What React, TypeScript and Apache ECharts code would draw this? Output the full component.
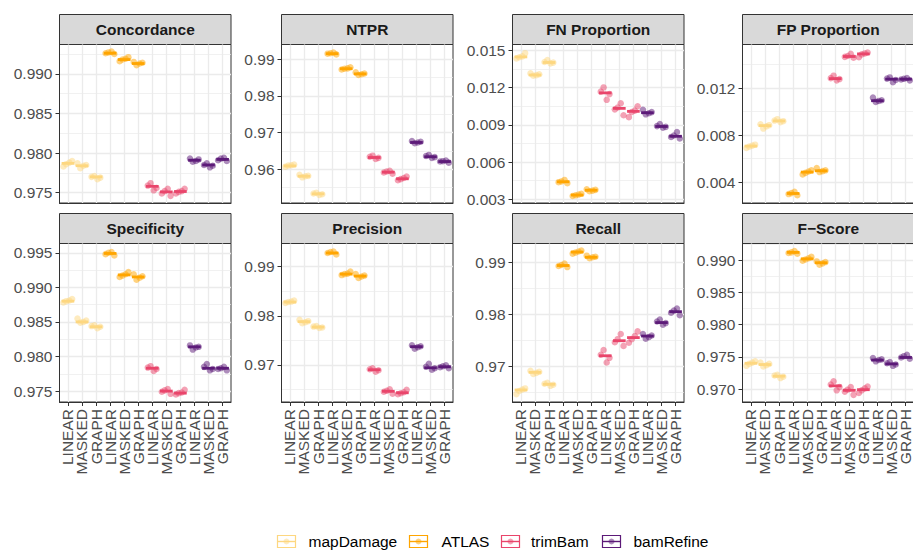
import { useEffect, useRef } from "react";
import * as echarts from "echarts";

// ---- categories ----
const TOOLS = ["mapDamage", "ATLAS", "trimBam", "bamRefine"];
const MODES = ["LINEAR", "MASKED", "GRAPH"];
const CATEGORIES = TOOLS.flatMap(() => MODES);
const TOOL_COLORS = ["#FDD780", "#FFA500", "#E9456B", "#5C1A78"];

// ---- Concordance ----
const concordanceMedian = [0.9787, 0.9784, 0.977, 0.9926, 0.9918, 0.9913, 0.9758, 0.9751, 0.97515, 0.9791, 0.9785, 0.9792];
const concordancePoints = [
  [0.9783, 0.9786, 0.9788, 0.979], [0.9781, 0.9784, 0.9785, 0.9787], [0.9767, 0.9769, 0.977, 0.9771],
  [0.9925, 0.9926, 0.9927, 0.9928], [0.9916, 0.9918, 0.9919, 0.9921], [0.9911, 0.9913, 0.9914, 0.9915],
  [0.9753, 0.9756, 0.9759, 0.9762], [0.9746, 0.9749, 0.9752, 0.9755], [0.9749, 0.9751, 0.9752, 0.9755],
  [0.9789, 0.979, 0.9792, 0.9793], [0.9782, 0.9784, 0.9785, 0.9787], [0.979, 0.9791, 0.9793, 0.9794],
];
const concordanceTicks = [0.975, 0.98, 0.985, 0.99];
const concordanceLimits = [0.9737, 0.9937];

// ---- NTPR ----
const ntprMedian = [0.9609, 0.9581, 0.9533, 0.9915, 0.9874, 0.986, 0.9632, 0.9592, 0.9574, 0.9673, 0.9634, 0.9621];
const ntprPoints = [
  [0.9607, 0.961, 0.9611, 0.9613], [0.9578, 0.9581, 0.9582, 0.9585], [0.953, 0.9532, 0.9534, 0.9536],
  [0.9913, 0.9915, 0.9916, 0.9918], [0.9872, 0.9874, 0.9875, 0.9878], [0.9857, 0.9859, 0.9861, 0.9864],
  [0.9628, 0.9631, 0.9634, 0.9637], [0.9588, 0.9591, 0.9594, 0.9596], [0.957, 0.9573, 0.9576, 0.958],
  [0.9671, 0.9673, 0.9675, 0.9677], [0.9631, 0.9633, 0.9636, 0.9639], [0.9618, 0.9621, 0.9622, 0.9624],
];
const ntprTicks = [0.96, 0.97, 0.98, 0.99];
const ntprLimits = [0.9508, 0.994];

// ---- FN Proportion ----
const fnMedian = [0.01448, 0.01302, 0.01403, 0.00441, 0.00334, 0.00373, 0.01158, 0.01033, 0.01009, 0.00998, 0.00887, 0.00808];
const fnPoints = [
  [0.01435, 0.01445, 0.01452, 0.01478], [0.01296, 0.01301, 0.01308, 0.01316], [0.01396, 0.01402, 0.01407, 0.01422],
  [0.0043, 0.00438, 0.00444, 0.00456], [0.00326, 0.00332, 0.00338, 0.00345], [0.00365, 0.0037, 0.00376, 0.00381],
  [0.01102, 0.01148, 0.01168, 0.01202], [0.00978, 0.01025, 0.0104, 0.01074], [0.00962, 0.01004, 0.01015, 0.0105],
  [0.00985, 0.00994, 0.01003, 0.01022], [0.00878, 0.00884, 0.0089, 0.00906], [0.0079, 0.00802, 0.00814, 0.00842],
];
const fnTicks = [0.003, 0.006, 0.009, 0.012, 0.015];
const fnLimits = [0.0027, 0.01548];

// ---- FP Proportion ----
const fpMedian = [0.00706, 0.0088, 0.0092, 0.00303, 0.00485, 0.00496, 0.0128, 0.01468, 0.0149, 0.01092, 0.01275, 0.01275];
const fpPoints = [
  [0.0069, 0.00702, 0.0071, 0.00718], [0.00855, 0.00874, 0.00884, 0.00892], [0.0091, 0.00918, 0.00923, 0.00935],
  [0.00288, 0.00298, 0.00306, 0.00318], [0.00465, 0.00478, 0.0049, 0.005], [0.00485, 0.00493, 0.005, 0.0052],
  [0.01265, 0.01276, 0.01284, 0.01305], [0.01458, 0.01465, 0.01472, 0.0149], [0.01462, 0.01486, 0.01494, 0.01502],
  [0.01082, 0.0109, 0.01096, 0.01118], [0.0125, 0.01268, 0.0128, 0.0129], [0.01265, 0.01272, 0.01278, 0.01285],
];
const fpTicks = [0.004, 0.008, 0.012];
const fpLimits = [0.00222, 0.0157];

// ---- Specificity ----
const specificityMedian = [0.988, 0.985, 0.9843, 0.9949, 0.9918, 0.9915, 0.9783, 0.975, 0.9747, 0.9814, 0.9783, 0.9783];
const specificityPoints = [
  [0.9878, 0.988, 0.9881, 0.9883], [0.9849, 0.985, 0.9852, 0.9855], [0.9841, 0.9843, 0.9844, 0.9845],
  [0.9946, 0.9948, 0.995, 0.9951], [0.9915, 0.9917, 0.9919, 0.9922], [0.9911, 0.9914, 0.9916, 0.9919],
  [0.9779, 0.9782, 0.9784, 0.9786], [0.9746, 0.9749, 0.9751, 0.9753], [0.9745, 0.9747, 0.9748, 0.9752],
  [0.981, 0.9813, 0.9814, 0.9816], [0.978, 0.9782, 0.9785, 0.9789], [0.978, 0.9782, 0.9783, 0.9785],
];
const specificityTicks = [0.975, 0.98, 0.985, 0.99, 0.995];
const specificityLimits = [0.97342, 0.99634];

// ---- Precision ----
const precisionMedian = [0.9828, 0.9788, 0.9777, 0.9928, 0.9885, 0.9881, 0.969, 0.9646, 0.9643, 0.9737, 0.9694, 0.9696];
const precisionPoints = [
  [0.9826, 0.9828, 0.9829, 0.9831], [0.9785, 0.9787, 0.9789, 0.9792], [0.9775, 0.9776, 0.9778, 0.9779],
  [0.9925, 0.9928, 0.993, 0.9931], [0.9883, 0.9885, 0.9886, 0.989], [0.9877, 0.988, 0.9882, 0.9885],
  [0.9686, 0.9689, 0.9691, 0.9693], [0.9641, 0.9645, 0.9647, 0.965], [0.964, 0.9642, 0.9644, 0.9649],
  [0.9733, 0.9736, 0.9738, 0.974], [0.969, 0.9693, 0.9696, 0.9702], [0.9693, 0.9695, 0.9697, 0.9699],
];
const precisionTicks = [0.97, 0.98, 0.99];
const precisionLimits = [0.96242, 0.99474];

// ---- Recall ----
const recallMedian = [0.9654, 0.9688, 0.9665, 0.9894, 0.992, 0.991, 0.972, 0.9749, 0.9755, 0.9758, 0.9784, 0.9805];
const recallPoints = [
  [0.9646, 0.9652, 0.9655, 0.9657], [0.9685, 0.9687, 0.9689, 0.9691], [0.9662, 0.9664, 0.9666, 0.9668],
  [0.9891, 0.9893, 0.9895, 0.9898], [0.9917, 0.9919, 0.9921, 0.9923], [0.9908, 0.991, 0.9911, 0.9913],
  [0.9707, 0.9716, 0.9722, 0.9731], [0.9739, 0.9746, 0.9752, 0.9762], [0.9745, 0.9752, 0.9758, 0.9767],
  [0.9753, 0.9756, 0.9759, 0.9762], [0.978, 0.9783, 0.9786, 0.979], [0.9798, 0.9803, 0.9807, 0.9811],
];
const recallTicks = [0.97, 0.98, 0.99];
const recallLimits = [0.96308, 0.99365];

// ---- F-Score ----
const fscoreMedian = [0.974, 0.9738, 0.972, 0.9912, 0.9902, 0.9896, 0.9705, 0.9698, 0.9699, 0.9745, 0.9739, 0.9749];
const fscorePoints = [
  [0.9736, 0.9739, 0.9741, 0.9743], [0.9735, 0.9737, 0.9739, 0.9741], [0.9717, 0.9719, 0.9721, 0.9722],
  [0.991, 0.9911, 0.9912, 0.9914], [0.9899, 0.9901, 0.9903, 0.9905], [0.9893, 0.9895, 0.9897, 0.9898],
  [0.9698, 0.9703, 0.9707, 0.9712], [0.9691, 0.9696, 0.9699, 0.9703], [0.9694, 0.9698, 0.9701, 0.9704],
  [0.9743, 0.9745, 0.9746, 0.9748], [0.9736, 0.9738, 0.974, 0.9742], [0.9747, 0.9749, 0.9751, 0.9753],
];
const fscoreTicks = [0.97, 0.975, 0.98, 0.985, 0.99];
const fscoreLimits = [0.96799, 0.99258];

const PANELS = [
  { title: "Concordance", median: concordanceMedian, points: concordancePoints, ticks: concordanceTicks, limits: concordanceLimits, decimals: 3 },
  { title: "NTPR", median: ntprMedian, points: ntprPoints, ticks: ntprTicks, limits: ntprLimits, decimals: 2 },
  { title: "FN Proportion", median: fnMedian, points: fnPoints, ticks: fnTicks, limits: fnLimits, decimals: 3 },
  { title: "FP Proportion", median: fpMedian, points: fpPoints, ticks: fpTicks, limits: fpLimits, decimals: 3 },
  { title: "Specificity", median: specificityMedian, points: specificityPoints, ticks: specificityTicks, limits: specificityLimits, decimals: 3 },
  { title: "Precision", median: precisionMedian, points: precisionPoints, ticks: precisionTicks, limits: precisionLimits, decimals: 2 },
  { title: "Recall", median: recallMedian, points: recallPoints, ticks: recallTicks, limits: recallLimits, decimals: 2 },
  { title: "F\u2212Score", median: fscoreMedian, points: fscorePoints, ticks: fscoreTicks, limits: fscoreLimits, decimals: 3 },
];

// ---- layout ----
const FONT = "'Liberation Sans', Arial, Helvetica, sans-serif";
const FONT_SIZE = 15.5;
const COL_LEFT = [59.5, 281.5, 512.5, 742.5];
const ROW_TOP = [44.5, 243.5];
const PANEL_W = 171.5;
const PANEL_H = 158.5;
const STRIP_H = 30;
const X_PAD = 0.6; // discrete-axis expansion, in category units
const JITTER = [-0.32, -0.12, 0.1, 0.3];
const HALF_BAR = 0.45;
const GRID_COLOR = "#EBEBEB";
const DARK = "#333333";

const LEGEND_Y = 541.5;
const LEGEND_ICON_X = [277.5, 409.5, 501.5, 602.5];
const LEGEND_TEXT_X = [308.5, 441.5, 531, 633.5];

function buildOption() {
  const grid: any[] = [];
  const xAxis: any[] = [];
  const yAxis: any[] = [];
  const series: any[] = [];
  const graphic: any[] = [];
  const catIdx = CATEGORIES.map((_, i) => i);
  const nCat = CATEGORIES.length;
  const unit = PANEL_W / (nCat - 1 + 2 * X_PAD);

  // one plotting grid per panel
  PANELS.forEach((p, k) => {
    const row = Math.floor(k / 4);
    const col = k % 4;
    const left = COL_LEFT[col];
    const top = ROW_TOP[row];
    const gi = grid.length;

    grid.push({
      left, top, width: PANEL_W, height: PANEL_H,
      show: true, backgroundColor: "#FFFFFF", borderColor: DARK, borderWidth: 1,
      containLabel: false, outerBoundsMode: "none",
    });

    const xi = xAxis.length;
    xAxis.push({
      type: "value", gridIndex: gi, min: -X_PAD, max: nCat - 1 + X_PAD,
      axisLine: { show: true, onZero: false, lineStyle: { color: DARK, width: 1 } },
      axisTick: { show: false, customValues: catIdx },
      axisLabel: { show: false, customValues: catIdx },
      splitLine: { show: true, lineStyle: { color: GRID_COLOR, width: 1.3 } },
    });

    const [lo, hi] = p.limits;
    const step = p.ticks[1] - p.ticks[0];
    const minor: number[] = [];
    for (let v = p.ticks[0] - step / 2; v <= hi; v += step) if (v >= lo) minor.push(v);

    const yi = yAxis.length;
    yAxis.push({
      type: "value", gridIndex: gi, min: lo, max: hi, position: "left",
      axisLine: { show: true, onZero: false, lineStyle: { color: DARK, width: 1 } },
      axisTick: { show: true, customValues: p.ticks, length: 4, lineStyle: { color: DARK, width: 1 } },
      axisLabel: {
        show: true, customValues: p.ticks, margin: 7,
        showMinLabel: true, showMaxLabel: true,
        color: "#4D4D4D", fontSize: FONT_SIZE, fontFamily: FONT,
        formatter: (v: number) => v.toFixed(p.decimals),
      },
      splitLine: { show: true, lineStyle: { color: GRID_COLOR, width: 1.3 } },
    });
    yAxis.push({
      type: "value", gridIndex: gi, min: lo, max: hi, position: "right",
      axisLine: { show: false },
      axisTick: { show: false, customValues: minor },
      axisLabel: { show: false, customValues: minor },
      splitLine: { show: true, lineStyle: { color: GRID_COLOR, width: 0.7 } },
    });

    TOOLS.forEach((tool, t) => {
      const pts: number[][] = [];
      const bars: number[][] = [];
      MODES.forEach((_, m) => {
        const i = t * 3 + m;
        p.points[i].forEach((v, j) => pts.push([i + JITTER[(j + i) % 4], v]));
        bars.push([i, p.median[i]]);
      });
      series.push({
        name: tool, type: "scatter", xAxisIndex: xi, yAxisIndex: yi,
        data: pts, symbolSize: 6.5, silent: true, z: 3,
        itemStyle: { color: TOOL_COLORS[t], opacity: 0.5 },
      });
      series.push({
        name: tool, type: "custom", xAxisIndex: xi, yAxisIndex: yi,
        data: bars, encode: { x: 0, y: 1 }, silent: true, z: 4,
        renderItem: (_params: any, api: any) => {
          const x = api.value(0);
          const y = api.value(1);
          const a = api.coord([x - HALF_BAR, y]);
          const b = api.coord([x + HALF_BAR, y]);
          return {
            type: "line",
            shape: { x1: a[0], y1: a[1], x2: b[0], y2: b[1] },
            style: { stroke: TOOL_COLORS[t], lineWidth: 2.8 },
          };
        },
      });
    });

    // facet strip
    graphic.push({
      type: "rect", silent: true,
      shape: { x: left, y: top - STRIP_H, width: PANEL_W, height: STRIP_H },
      style: { fill: "#D9D9D9", stroke: DARK, lineWidth: 1 },
    });
    graphic.push({
      type: "text", silent: true,
      x: left + PANEL_W / 2, y: top - STRIP_H / 2,
      style: {
        text: p.title, fill: "#1A1A1A", fontSize: FONT_SIZE, fontWeight: "bold",
        fontFamily: FONT, align: "center", verticalAlign: "middle",
      },
    });
  });

  // category axes (ticks + rotated labels) under the bottom row of panels
  PANELS.forEach((_p, k) => {
    const row = Math.floor(k / 4);
    if (row !== 1) return;
    const col = k % 4;
    const gi = grid.length;
    grid.push({
      left: COL_LEFT[col] + X_PAD * unit, top: ROW_TOP[row],
      width: (nCat - 1) * unit, height: PANEL_H,
      show: false, containLabel: false, outerBoundsMode: "none",
    });
    xAxis.push({
      type: "category", gridIndex: gi, data: CATEGORIES, boundaryGap: false,
      axisLine: { show: false },
      axisTick: { show: true, interval: 0, length: 4, lineStyle: { color: DARK, width: 1 } },
      axisLabel: {
        show: true, interval: 0, rotate: 90, margin: 7,
        color: "#4D4D4D", fontSize: FONT_SIZE, fontFamily: FONT,
      },
      splitLine: { show: false },
    });
    yAxis.push({ type: "value", gridIndex: gi, show: false });
  });

  // legend keys (crossbar glyph)
  TOOLS.forEach((tool, t) => {
    const x0 = LEGEND_ICON_X[t];
    const c = TOOL_COLORS[t];
    graphic.push({
      type: "rect", silent: true,
      shape: { x: x0, y: LEGEND_Y - 6, width: 18, height: 12 },
      style: { fill: "none", stroke: c, lineWidth: 1.2 },
    });
    graphic.push({
      type: "line", silent: true,
      shape: { x1: x0, y1: LEGEND_Y, x2: x0 + 18, y2: LEGEND_Y },
      style: { stroke: c, lineWidth: 1.4 },
    });
    graphic.push({
      type: "circle", silent: true,
      shape: { cx: x0 + 9, cy: LEGEND_Y, r: 3 },
      style: { fill: c, opacity: 0.5 },
    });
    graphic.push({
      type: "text", silent: true,
      x: LEGEND_TEXT_X[t], y: LEGEND_Y,
      style: {
        text: tool, fill: "#000000", fontSize: FONT_SIZE, fontFamily: FONT,
        align: "left", verticalAlign: "middle",
      },
    });
  });

  return {
    animation: false,
    backgroundColor: "#FFFFFF",
    textStyle: { fontFamily: FONT },
    grid, xAxis, yAxis, series, graphic,
  };
}

export default function App() {
  const ref = useRef<HTMLDivElement>(null);
  useEffect(() => {
    if (!ref.current) return;
    const chart = echarts.init(ref.current, undefined, { renderer: "svg" });
    chart.setOption(buildOption() as any);
    return () => chart.dispose();
  }, []);
  return (
    <div
      ref={ref}
      style={{ position: "fixed", left: 0, top: 0, width: 913, height: 550, background: "#FFFFFF" }}
    />
  );
}
